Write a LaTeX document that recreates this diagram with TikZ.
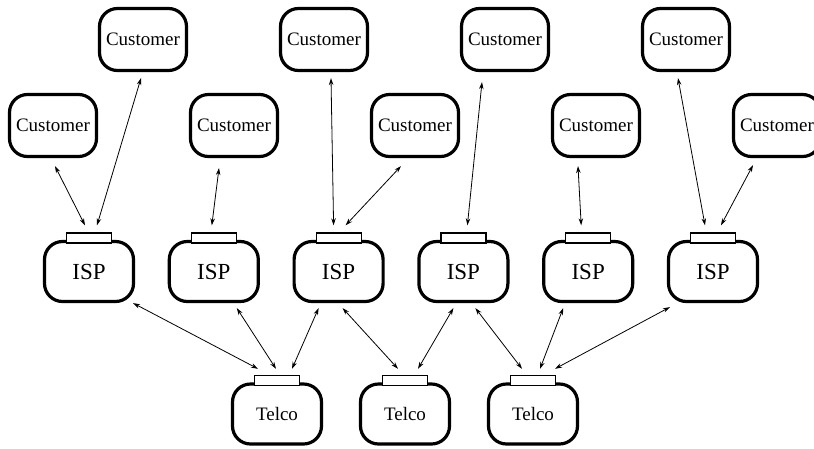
\documentclass[tikz,border=0pt]{standalone}
\usepackage{fontspec}
\setmainfont{Liberation Serif}
\usetikzlibrary{arrows.meta}

\begin{document}
\begin{tikzpicture}[
    x=1pt, y=-1pt,
    every node/.style={font=\fontsize{19}{22}\selectfont, text centered},
    >={Stealth[length=7pt, width=4.5pt]},
    link/.style={<->, line width=0.8pt},
    customer/.style={rectangle, rounded corners=18pt, draw=black, line width=3.2pt, minimum width=87pt, minimum height=62pt},
    carrier/.style={rectangle, rounded corners=18pt, draw=black, line width=3.2pt, minimum width=89pt, minimum height=60pt},
    isp/.style={carrier, font=\fontsize{23}{26}\selectfont},
    port/.style={rectangle, draw=black, fill=white, line width=1.2pt, minimum width=45pt, minimum height=10pt, inner sep=0pt}
]
\useasboundingbox (0,0) rectangle (814,448);
\clip (0,0) rectangle (814,448);

% Customers
\node (cust1) [customer] at (53,125.5) {Customer};
\node (cust3) [customer, right of=cust1, node distance=181pt] {Customer};
\node (cust5) [customer, right of=cust3, node distance=181pt] {Customer};
\node (cust7) [customer, right of=cust5, node distance=181pt] {Customer};
\node (cust9) [customer, right of=cust7, node distance=181pt] {Customer};
\node (cust2) [customer] at (143,39.5) {Customer};
\node (cust4) [customer, right of=cust2, node distance=181pt] {Customer};
\node (cust6) [customer, right of=cust4, node distance=181pt] {Customer};
\node (cust8) [customer, right of=cust6, node distance=181pt] {Customer};

% ISPs
\node (isp1) [isp] at (89,271.5) {ISP};
\node (isp2) [isp, right of=isp1, node distance=124.8pt] {ISP};
\node (isp3) [isp, right of=isp2, node distance=124.8pt] {ISP};
\node (isp4) [isp, right of=isp3, node distance=124.8pt] {ISP};
\node (isp5) [isp, right of=isp4, node distance=124.8pt] {ISP};
\node (isp6) [isp, right of=isp5, node distance=124.8pt] {ISP};
\node (isp1port) [port] at ([yshift=2pt]isp1.north) {};
\node (isp2port) [port] at ([yshift=2pt]isp2.north) {};
\node (isp3port) [port] at ([yshift=2pt]isp3.north) {};
\node (isp4port) [port] at ([yshift=2pt]isp4.north) {};
\node (isp5port) [port] at ([yshift=2pt]isp5.north) {};
\node (isp6port) [port] at ([yshift=2pt]isp6.north) {};

% Telcos
\node (telco1) [carrier] at (277,414) {Telco};
\node (telco2) [carrier, right of=telco1, node distance=128pt] {Telco};
\node (telco3) [carrier, right of=telco2, node distance=128pt] {Telco};
\node (telco1port) [port] at ([yshift=2pt]telco1.north) {};
\node (telco2port) [port] at ([yshift=2pt]telco2.north) {};
\node (telco3port) [port] at ([yshift=2pt]telco3.north) {};

% Customer <-> ISP
\draw [link] ([xshift=2pt,yshift=-8pt]cust1.south) -- ([xshift=-4pt,yshift=7pt]isp1port.north);
\draw [link] ([xshift=-2pt,yshift=-6pt]cust2.south) -- ([xshift=8pt,yshift=7pt]isp1port.north);
\draw [link] ([xshift=-15pt,yshift=-10pt]cust3.south) -- ([xshift=-2pt,yshift=7pt]isp2port.north);
\draw [link] ([xshift=7pt,yshift=-6pt]cust4.south) -- ([xshift=-5pt,yshift=7pt]isp3port.north);
\draw [link] ([xshift=-14pt,yshift=-8pt]cust5.south) -- ([xshift=7pt,yshift=7pt]isp3port.north);
\draw [link] ([xshift=-23pt,yshift=-10pt]cust6.south) -- ([xshift=4pt,yshift=7pt]isp4port.north);
\draw [link] ([xshift=-18pt,yshift=-8pt]cust7.south) -- ([xshift=-7pt,yshift=7pt]isp5port.north);
\draw [link] ([xshift=-8pt,yshift=-6pt]cust8.south) -- ([xshift=-8pt,yshift=7pt]isp6port.north);
\draw [link] ([xshift=-24pt,yshift=-7pt]cust9.south) -- ([xshift=8pt,yshift=7pt]isp6port.north);

% ISP <-> Telco
\draw [link] ([xshift=-2pt]isp1.south east) -- ([xshift=-19pt,yshift=6pt]telco1port.north);
\draw [link] ([xshift=23pt,yshift=-5pt]isp2.south) -- ([xshift=-1pt,yshift=6pt]telco1port.north);
\draw [link] ([xshift=-20pt,yshift=-5pt]isp3.south) -- ([xshift=15pt,yshift=6pt]telco1port.north);
\draw [link] ([xshift=4pt,yshift=-5pt]isp3.south) -- ([xshift=-7pt,yshift=6pt]telco2port.north);
\draw [link] ([xshift=-10pt,yshift=-5pt]isp4.south) -- ([xshift=13pt,yshift=6pt]telco2port.north);
\draw [link] ([xshift=12pt,yshift=-5pt]isp4.south) -- ([xshift=-11pt,yshift=6pt]telco3port.north);
\draw [link] ([xshift=-25pt,yshift=-5pt]isp5.south) -- ([xshift=7pt,yshift=6pt]telco3port.north);
\draw [link] ([xshift=3pt,yshift=-4pt]isp6.south west) -- ([xshift=22pt,yshift=6pt]telco3port.north);
\end{tikzpicture}
\end{document}
